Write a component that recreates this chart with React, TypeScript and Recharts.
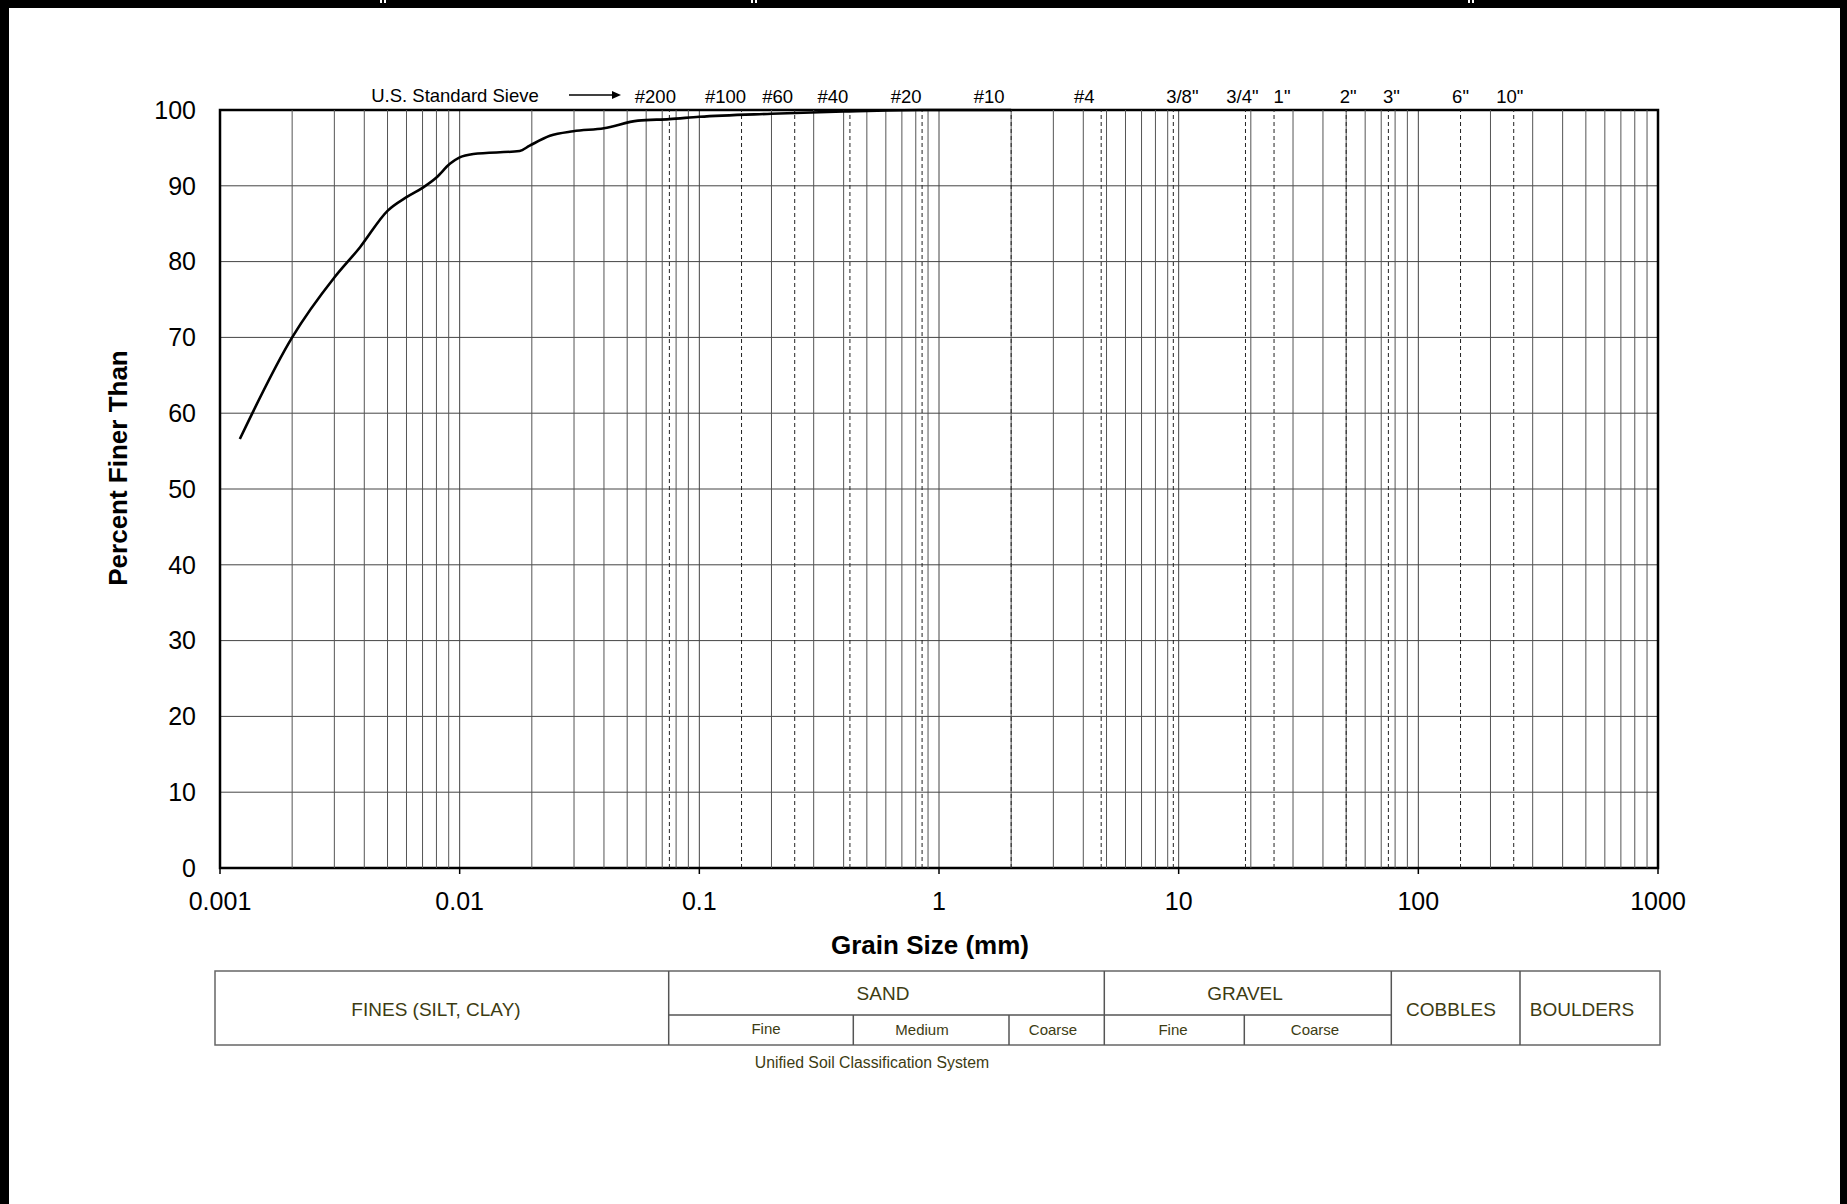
import React from 'react';
import {
    LineChart,
    Line,
    XAxis,
    YAxis,
    CartesianGrid,
    ReferenceLine,
    ReferenceArea,
} from 'recharts';

// gradation curve: grain size (mm) vs percent finer
const grainSize = [
    0.00121, 0.002, 0.003, 0.00384, 0.005, 0.006, 0.00705, 0.008, 0.0091, 0.01,
    0.0114, 0.0178, 0.0196, 0.0238, 0.0298, 0.04, 0.0555, 0.075, 0.1, 0.2, 0.4, 0.85, 2,
];
const percentFiner = [
    56.6, 70.0, 77.9, 81.9, 86.7, 88.5, 89.8, 91.1, 92.9, 93.75,
    94.2, 94.6, 95.3, 96.6, 97.2, 97.6, 98.6, 98.8, 99.1, 99.5, 99.8, 100, 100,
];

// axes
const decades = [0.001, 0.01, 0.1, 1, 10, 100, 1000];
const minorSteps = [2, 3, 4, 5, 6, 7, 8, 9];
const percentTicks = [0, 10, 20, 30, 40, 50, 60, 70, 80, 90, 100];

// US standard sieve openings (mm)
const sieveSizes = [0.075, 0.15, 0.25, 0.425, 0.85, 2, 4.75, 9.5, 19, 25, 50, 75, 150, 250];
const sieveLabels = ['#200', '#100', '#60', '#40', '#20', '#10', '#4', '3/8"', '3/4"', '1"', '2"', '3"', '6"', '10"'];

// small nudges of the sieve labels (px), layout only
const sieveLabelShift = [-14, -16, -17, -17, -16, -22, -17, 9, -3, 8, 2, 3, 0, -4];

// USCS table text
const mainClasses = ['FINES (SILT, CLAY)', 'SAND', 'GRAVEL', 'COBBLES', 'BOULDERS'];
const subClasses = ['Fine', 'Medium', 'Coarse', 'Fine', 'Coarse'];

const FONT = '"Liberation Sans", Arial, Helvetica, sans-serif';
const TABLE_TEXT = '#3d3c12';
const TABLE_LINE = '#555';

const chartData = grainSize.map((d, i) => ({ size: d, pf: percentFiner[i] }));
const minorLines = decades.slice(0, -1).flatMap((d) => minorSteps.map((s) => +(d * s).toPrecision(6)));

// table geometry (px)
const tbl = { left: 215, right: 1660, top: 971, mid: 1015, bottom: 1045 };
const mainEdges = [215, 668.7, 1104.3, 1391.3, 1520, 1660];
const mainTextPos = [
    [436, 1009],
    [883, 993],
    [1245, 993],
    [1451, 1009],
    [1582, 1009],
];
const subEdges = [853.3, 1009, 1244.3];
const subTextPos = [
    [766, 1028],
    [922, 1029],
    [1053, 1029],
    [1173, 1029],
    [1315, 1029],
];

const App: React.FC = () => {
    return (
        <div
            style={{
                position: 'absolute',
                left: 0,
                top: 0,
                width: 1847,
                height: 1204,
                background: '#fff',
                fontFamily: FONT,
                overflow: 'hidden',
            }}
        >
            <div style={{ position: 'absolute', left: 0, top: 0 }}>
                <LineChart
                    width={1847}
                    height={1204}
                    data={chartData}
                    margin={{ top: 110, right: 189, left: 140, bottom: 296 }}
                >
                    <CartesianGrid stroke="#444" strokeWidth={1} />
                    <XAxis
                        dataKey="size"
                        type="number"
                        scale="log"
                        domain={[0.001, 1000]}
                        allowDataOverflow
                        ticks={decades}
                        tickFormatter={(v: number) => String(v)}
                        axisLine={false}
                        tickLine={{ stroke: '#000', strokeWidth: 1.5 }}
                        tickSize={6}
                        tickMargin={18}
                        height={40}
                        tick={{ fill: '#000', fontSize: 25 }}
                        interval={0}
                        label={{
                            content: ({ viewBox }: any) => (
                                <text
                                    x={viewBox.x + viewBox.width / 2 - 9}
                                    y={945}
                                    textAnchor="middle"
                                    dominantBaseline="central"
                                    fontSize={26}
                                    fontWeight="bold"
                                    fill="#000"
                                >
                                    Grain Size (mm)
                                </text>
                            ),
                        }}
                    />
                    <YAxis
                        type="number"
                        domain={[0, 100]}
                        ticks={percentTicks}
                        interval={0}
                        width={80}
                        axisLine={false}
                        tickLine={false}
                        tickSize={6}
                        tickMargin={18}
                        tick={{ fill: '#000', fontSize: 25 }}
                        label={{
                            content: ({ viewBox }: any) => {
                                const cx = 118;
                                const cy = viewBox.y + viewBox.height / 2 - 21;
                                return (
                                    <text
                                        x={cx}
                                        y={cy}
                                        transform={`rotate(-90, ${cx}, ${cy})`}
                                        textAnchor="middle"
                                        dominantBaseline="central"
                                        fontSize={26}
                                        fontWeight="bold"
                                        fill="#000"
                                    >
                                        Percent Finer Than
                                    </text>
                                );
                            },
                        }}
                    />
                    {minorLines.map((v) => (
                        <ReferenceLine key={`m-${v}`} x={v} stroke="#555" strokeWidth={1} />
                    ))}
                    {sieveSizes.map((s, i) => (
                        <ReferenceLine
                            key={`s-${s}`}
                            x={s}
                            stroke="#222"
                            strokeWidth={1}
                            strokeDasharray="4 3"
                            label={{
                                content: ({ viewBox }: any) => (
                                    <text
                                        x={viewBox.x + sieveLabelShift[i]}
                                        y={96}
                                        textAnchor="middle"
                                        dominantBaseline="central"
                                        fontSize={18.5}
                                        fill="#000"
                                    >
                                        {sieveLabels[i]}
                                    </text>
                                ),
                            }}
                        />
                    ))}
                    <ReferenceArea
                        x1={0.001}
                        x2={1000}
                        y1={0}
                        y2={100}
                        fill="none"
                        fillOpacity={0}
                        stroke="#000"
                        strokeWidth={2.5}
                    />
                    <Line
                        dataKey="pf"
                        type="monotone"
                        stroke="#000"
                        strokeWidth={2.6}
                        dot={false}
                        isAnimationActive={false}
                    />
                </LineChart>
            </div>

            <svg
                width={1847}
                height={1204}
                style={{ position: 'absolute', left: 0, top: 0, pointerEvents: 'none' }}
            >
                {/* page frame */}
                <rect x={0} y={0} width={1847} height={8} fill="#000" />
                <rect x={0} y={0} width={9} height={1204} fill="#000" />
                <rect x={1840} y={0} width={7} height={1204} fill="#000" />
                {[383, 754, 1471].map((x) => (
                    <g key={x}>
                        <rect x={x - 3} y={0} width={6} height={3} fill="#fff" />
                        <rect x={x - 1} y={0} width={2} height={8} fill="#000" />
                    </g>
                ))}

                {/* sieve caption */}
                <text x={455} y={95} textAnchor="middle" dominantBaseline="central" fontSize={18.5} fill="#000">
                    U.S. Standard Sieve
                </text>
                <line x1={569} y1={95} x2={613} y2={95} stroke="#000" strokeWidth={1.3} />
                <polygon points="612,91 621,95 612,99" fill="#000" />

                {/* USCS table */}
                <rect
                    x={tbl.left}
                    y={tbl.top}
                    width={tbl.right - tbl.left}
                    height={tbl.bottom - tbl.top}
                    fill="none"
                    stroke="#666"
                    strokeWidth={1.5}
                />
                {mainEdges.slice(1, -1).map((x) => (
                    <line key={`e-${x}`} x1={x} y1={tbl.top} x2={x} y2={tbl.bottom} stroke={TABLE_LINE} strokeWidth={1.5} />
                ))}
                <line x1={mainEdges[1]} y1={tbl.mid} x2={mainEdges[3]} y2={tbl.mid} stroke={TABLE_LINE} strokeWidth={1.5} />
                {subEdges.map((x) => (
                    <line key={`se-${x}`} x1={x} y1={tbl.mid} x2={x} y2={tbl.bottom} stroke={TABLE_LINE} strokeWidth={1.5} />
                ))}
                {mainClasses.map((t, i) => (
                    <text
                        key={`mc-${i}`}
                        x={mainTextPos[i][0]}
                        y={mainTextPos[i][1]}
                        textAnchor="middle"
                        dominantBaseline="central"
                        fontSize={19}
                        fill={TABLE_TEXT}
                    >
                        {t}
                    </text>
                ))}
                {subClasses.map((t, i) => (
                    <text
                        key={`sc-${i}`}
                        x={subTextPos[i][0]}
                        y={subTextPos[i][1]}
                        textAnchor="middle"
                        dominantBaseline="central"
                        fontSize={15}
                        fill={TABLE_TEXT}
                    >
                        {t}
                    </text>
                ))}
                <text x={872} y={1062} textAnchor="middle" dominantBaseline="central" fontSize={15.8} fill={TABLE_TEXT}>
                    Unified Soil Classification System
                </text>
            </svg>
        </div>
    );
};

export default App;
